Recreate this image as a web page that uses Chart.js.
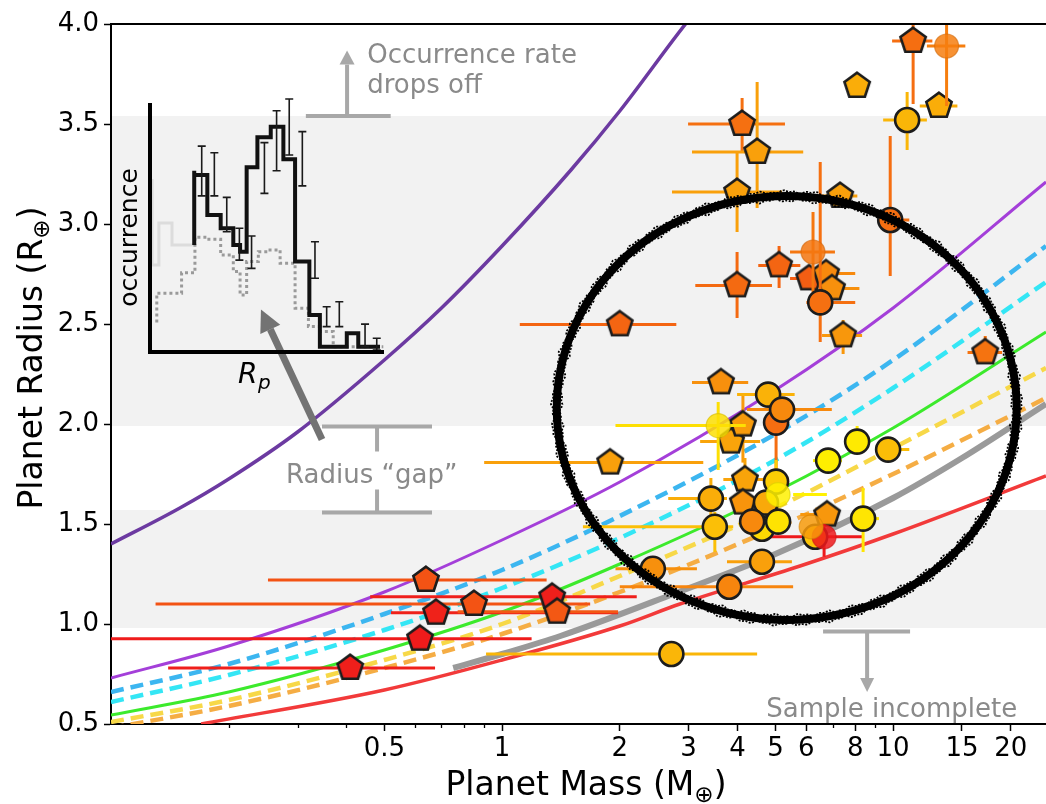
<!DOCTYPE html>
<html>
<head>
<meta charset="utf-8">
<script src="https://cdn.jsdelivr.net/npm/chart.js@4.4.1/dist/chart.umd.min.js"></script>
<style>
html,body{margin:0;padding:0;background:#ffffff;}
#wrap{position:relative;width:1046px;height:804px;overflow:hidden;background:#fff;}
#main{position:absolute;left:0;top:0;}
#inset{position:absolute;left:100px;top:85px;}
</style>
</head>
<body>
<div id="wrap">
<canvas id="main" width="1046" height="804"></canvas>
<canvas id="inset" width="300" height="310"></canvas>
</div>
<script>
// ---------------- axes ----------------
const xTickValues = [0.5, 1, 2, 3, 4, 5, 6, 8, 10, 15, 20];
const xTickLabels = ['0.5', '1', '2', '3', '4', '5', '6', '8', '10', '15', '20'];
const xMinorTickValues = [0.2, 0.3, 0.4, 0.6, 0.7, 0.8, 0.9, 7, 9];
const yTickValues = [0.5, 1.0, 1.5, 2.0, 2.5, 3.0, 3.5, 4.0];
const yTickLabels = ['0.5', '1.0', '1.5', '2.0', '2.5', '3.0', '3.5', '4.0'];
const massRange = [0.1, 24.6];
const radiusRange = [0.5, 4.0];
const shadedRadiusBands = [[0.98, 1.57], [1.99, 3.54]];

// ---------------- composition curves (mass, radius) ----------------
const curveMass = [0.1, 0.2, 0.5, 1, 2, 5, 10, 24.6];
const darkPurpleMass = [0.1, 0.15, 0.2, 0.3, 0.5, 0.7, 1, 1.5, 2, 3.0, 3.2];
const darkPurpleRadius = [1.40, 1.58, 1.725, 1.96, 2.32, 2.58, 2.89, 3.27, 3.565, 4.02, 4.085];
const purpleRadius = [0.73, 0.89, 1.16, 1.42, 1.71, 2.17, 2.58, 3.21];
const blueRadius = [0.66, 0.80, 1.05, 1.27, 1.54, 1.95, 2.32, 2.89];
const cyanRadius = [0.61, 0.745, 0.97, 1.18, 1.43, 1.82, 2.18, 2.71];
const greenRadius = [0.545, 0.66, 0.87, 1.06, 1.30, 1.66, 1.98, 2.46];
const yellowRadius = [0.51, 0.62, 0.82, 1.00, 1.24, 1.58, 1.88, 2.28];
const orangeRadius = [0.48, 0.59, 0.78, 0.95, 1.16, 1.48, 1.75, 2.13];
const grayMass = [0.75, 1, 1.41, 2.74, 5, 10, 15, 24.6];
const grayRadius = [0.78, 0.85, 0.94, 1.15, 1.35, 1.63, 1.83, 2.10];
const redMass = [0.17, 0.5, 1, 2, 2.85, 5.78, 10, 24.6];
const redRadius = [0.50, 0.67, 0.82, 0.99, 1.10, 1.29, 1.45, 1.74];

// ---------------- planets drawn as pentagons ----------------
const pentMass   = [0.409, 0.639, 0.617, 0.678, 0.848, 1.343, 1.383, 2.0, 1.89, 3.63, 3.85, 4.13, 4.18, 4.13, 6.78, 4.11, 4.49, 3.99, 7.32, 5.11, 3.99, 6.1, 6.74, 6.98, 7.45, 8.09, 11.25, 13.1, 17.2];
const pentRadius = [0.78, 1.22, 0.926, 1.056, 1.10, 1.136, 1.061, 2.498, 1.807, 2.208, 1.912, 1.997, 1.722, 1.607, 1.547, 3.50, 3.36, 3.16, 3.14, 2.793, 2.693, 2.728, 2.753, 2.678, 2.443, 3.69, 3.915, 3.59, 2.358];
const pentMassLo = [0.14, 0.252, 0.1, 0.52, 0.13, 0.46, 0.77, 1.11, 0.90, 3.06, 3.21, 4.13, 3.68, 4.13, 5.79, 2.99, 3.06, 2.72, 6.6, 4.52, 3.12, 5.45, 6.3, 6.5, 6.58, 8.09, 9.94, 11.7, 15.5];
const pentMassHi = [0.674, 1.30, 1.19, 1.98, 1.68, 2.21, 1.98, 2.79, 3.27, 4.26, 4.57, 4.13, 4.9, 4.13, 7.22, 5.29, 5.89, 5.2, 8.1, 5.79, 4.9, 6.6, 8.0, 8.2, 8.33, 8.09, 12.6, 14.6, 19.0];
const pentRadLo  = [0.78, 1.16, 0.926, 1.056, 1.10, 1.136, 1.061, 2.45, 1.807, 2.15, 1.912, 1.807, 1.62, 1.607, 1.547, 3.36, 3.08, 2.96, 3.14, 2.68, 2.53, 2.728, 2.753, 2.678, 2.35, 3.69, 3.6, 3.55, 2.33];
const pentRadHi  = [0.78, 1.28, 0.926, 1.056, 1.10, 1.136, 1.061, 2.55, 1.807, 2.26, 1.912, 2.147, 1.83, 1.607, 1.547, 3.63, 3.71, 3.36, 3.14, 2.89, 2.86, 2.728, 2.753, 2.678, 2.52, 3.69, 4.0, 3.63, 2.44];
const pentHeat   = [0.05, 0.28, 0.03, 0.06, 0.28, 0.05, 0.30, 0.36, 0.62, 0.55, 0.64, 0.60, 0.64, 0.57, 0.58, 0.41, 0.62, 0.62, 0.62, 0.36, 0.38, 0.33, 0.52, 0.55, 0.58, 0.68, 0.40, 0.68, 0.42];

// ---------------- planets drawn as circles ----------------
const circMass   = [2.71, 3.81, 2.43, 4.62, 3.5, 3.42, 4.79, 5.02, 5.2, 6.82, 8.09, 9.71, 5.02, 4.62, 4.73, 4.36, 5.08, 6.32, 6.66, 6.17, 8.38, 6.51, 6.24, 9.83, 10.86, 13.7, 3.57, 5.08];
const circRadius = [0.85, 1.186, 1.276, 1.311, 1.486, 1.627, 2.147, 2.007, 2.072, 1.817, 1.912, 1.872, 1.712, 1.476, 1.607, 1.512, 1.512, 1.436, 1.436, 1.486, 1.527, 2.608, 2.86, 3.02, 3.52, 3.89, 1.992, 1.647];
const circMassLo = [0.91, 2.0, 1.95, 3.76, 1.61, 2.66, 3.99, 5.02, 4.23, 6.24, 7.6, 9.0, 5.02, 4.62, 4.73, 4.36, 5.08, 6.32, 4.57, 6.17, 7.9, 6.0, 5.45, 9.2, 9.43, 12.2, 1.95, 5.55];
const circMassHi = [4.49, 5.55, 3.15, 5.51, 3.9, 3.76, 5.6, 5.02, 6.97, 7.4, 8.6, 11.0, 5.02, 4.62, 4.73, 4.36, 5.08, 6.32, 8.4, 6.17, 9.2, 8.0, 7.1, 11.0, 12.2, 15.3, 4.2, 6.77];
const circRadLo  = [0.85, 1.186, 1.276, 1.311, 1.36, 1.52, 2.147, 1.77, 2.072, 1.817, 1.85, 1.872, 1.6, 1.476, 1.607, 1.512, 1.512, 1.436, 1.336, 1.486, 1.36, 2.41, 2.66, 2.74, 3.37, 3.59, 1.77, 1.647];
const circRadHi  = [0.85, 1.186, 1.276, 1.311, 1.56, 1.73, 2.147, 2.10, 2.072, 1.817, 1.99, 1.872, 1.82, 1.476, 1.607, 1.512, 1.512, 1.436, 1.5, 1.486, 1.68, 3.31, 3.06, 3.44, 3.66, 4.0, 2.11, 1.647];
const circHeat   = [0.72, 0.50, 0.55, 0.62, 0.76, 0.68, 0.70, 0.40, 0.52, 0.97, 0.95, 0.75, 0.82, 0.88, 0.66, 0.52, 0.92, 0.78, 0.02, 0.60, 0.93, 0.41, 0.44, 0.40, 0.72, 0.47, 0.90, 0.98];
const circFadedIndex = [18, 19, 22, 25, 26, 27];

// ---------------- annotation anchors (mass, radius) ----------------
const ringMassSpan = [1.38, 20.7];
const ringRadiusSpan = [1.02, 3.14];

// ---------------- inset histogram (relative units) ----------------
const insetSolidX = [0.189, 0.189, 0.245, 0.302, 0.356, 0.385, 0.413, 0.459, 0.516, 0.570, 0.620, 0.681, 0.726, 0.841, 0.890, 0.947, 0.983];
const insetSolidY = [0.430, 0.728, 0.711, 0.550, 0.497, 0.430, 0.403, 0.742, 0.862, 0.905, 0.774, 0.363, 0.149, 0.021, 0.075, 0.021, 0.021];
const insetDotX = [0.029, 0.029, 0.135, 0.192, 0.242, 0.302, 0.356, 0.385, 0.413, 0.463, 0.513, 0.556, 0.620, 0.677, 0.726, 0.783, 0.841, 0.997];
const insetDotY = [0.118, 0.193, 0.236, 0.318, 0.461, 0.453, 0.390, 0.323, 0.229, 0.363, 0.403, 0.410, 0.356, 0.176, 0.102, 0.082, 0.021, 0.021];
const insetPaleX = [0.009, 0.038, 0.094, 0.137, 0.189];
const insetPaleY = [0.695, 0.349, 0.518, 0.430, 0.430];
const insetErrX  = [0.221, 0.275, 0.328, 0.382, 0.434, 0.489, 0.541, 0.595, 0.651, 0.705, 0.755, 0.809, 0.919, 0.969];
const insetErrLo = [0.627, 0.627, 0.483, 0.369, 0.336, 0.637, 0.728, 0.791, 0.667, 0.296, 0.102, 0.102, 0.021, 0.008];
const insetErrHi = [0.827, 0.800, 0.621, 0.497, 0.466, 0.841, 0.969, 1.016, 0.885, 0.443, 0.182, 0.202, 0.112, 0.055];

// =====================================================================
const FONT = 'DejaVu Sans';
function heatRGB(c) { return [Math.round(238 + 17 * c), Math.round(20 + 225 * c), Math.round(28 - 28 * c)]; }
function rgba(a, al) { return 'rgba(' + a[0] + ',' + a[1] + ',' + a[2] + ',' + al + ')'; }
function pts(xs, ys) { return xs.map((x, i) => ({ x: x, y: ys[i] })); }

function pentagonImage(fill) {
  const s = 34, c = document.createElement('canvas');
  c.width = s; c.height = s;
  const g = c.getContext('2d'), R = 13.3;
  g.beginPath();
  for (let k = 0; k < 5; k++) {
    const a = -Math.PI / 2 + k * 2 * Math.PI / 5;
    const px = s / 2 + R * Math.cos(a), py = s / 2 + R * Math.sin(a);
    if (k) g.lineTo(px, py); else g.moveTo(px, py);
  }
  g.closePath();
  g.fillStyle = fill; g.fill();
  g.lineWidth = 2.6; g.strokeStyle = '#1c1c1c'; g.lineJoin = 'miter'; g.stroke();
  return c;
}

function curve(xs, ys, color, width, dash) {
  return { type: 'line', data: pts(xs, ys), borderColor: color, borderWidth: width, borderDash: dash || [],
    pointRadius: 0, fill: false, cubicInterpolationMode: 'monotone', order: 10, clip: 0 };
}

const errorBarPlugin = {
  id: 'errbars',
  beforeDatasetDraw(chart, args) {
    const ds = chart.data.datasets[args.index];
    if (!ds.errLo) return;
    const ctx = chart.ctx, xs = chart.scales.x, ys = chart.scales.y, a = chart.chartArea;
    ctx.save();
    ctx.beginPath(); ctx.rect(a.left, a.top, a.right - a.left, a.bottom - a.top); ctx.clip();
    ctx.lineWidth = 3; ctx.lineCap = 'butt';
    ds.data.forEach((p, i) => {
      ctx.strokeStyle = ds.errColor[i];
      const px = xs.getPixelForValue(p.x), py = ys.getPixelForValue(p.y);
      const mLo = ds.errLo.m[i], mHi = ds.errHi.m[i], rLo = ds.errLo.r[i], rHi = ds.errHi.r[i];
      if (mHi > mLo) { ctx.beginPath(); ctx.moveTo(xs.getPixelForValue(mLo), py); ctx.lineTo(xs.getPixelForValue(mHi), py); ctx.stroke(); }
      if (rHi > rLo) { ctx.beginPath(); ctx.moveTo(px, ys.getPixelForValue(rLo)); ctx.lineTo(px, ys.getPixelForValue(rHi)); ctx.stroke(); }
    });
    ctx.restore();
  }
};

const bandPlugin = {
  id: 'bands',
  beforeDraw(chart) {
    const ctx = chart.ctx, a = chart.chartArea, ys = chart.scales.y;
    ctx.save();
    ctx.fillStyle = '#ffffff'; ctx.fillRect(0, 0, chart.width, chart.height);
    ctx.fillStyle = '#f2f2f2';
    shadedRadiusBands.forEach(b => {
      const y1 = ys.getPixelForValue(b[1]), y0 = ys.getPixelForValue(b[0]);
      ctx.fillRect(a.left, y1, a.right - a.left, y0 - y1);
    });
    ctx.restore();
  }
};

function drawParts(ctx, parts, x, y, size, align) {
  let total = 0;
  const widths = parts.map(p => { ctx.font = (p[1] ? size * 0.7 : size) + 'px "' + FONT + '"'; const w = ctx.measureText(p[0]).width; total += w; return w; });
  let cx = align === 'center' ? x - total / 2 : x;
  parts.forEach((p, i) => {
    ctx.font = (p[1] ? size * 0.7 : size) + 'px "' + FONT + '"';
    ctx.fillText(p[0], cx, p[1] ? y + size * 0.22 : y);
    cx += widths[i];
  });
}

function arrowHead(ctx, tipX, tipY, dirX, dirY, len, half) {
  const n = Math.hypot(dirX, dirY), ux = dirX / n, uy = dirY / n;
  const bx = tipX - ux * len, by = tipY - uy * len;
  ctx.beginPath();
  ctx.moveTo(tipX, tipY);
  ctx.lineTo(bx - uy * half, by + ux * half);
  ctx.lineTo(bx + uy * half, by - ux * half);
  ctx.closePath(); ctx.fill();
  return [bx, by];
}

const decoPlugin = {
  id: 'deco',
  afterDatasetsDraw(chart) {
    const ctx = chart.ctx, a = chart.chartArea;
    const X = v => chart.scales.x.getPixelForValue(v), Y = v => chart.scales.y.getPixelForValue(v);
    ctx.save();
    // hand-drawn ring
    const x0 = X(ringMassSpan[0]), x1 = X(ringMassSpan[1]), y0 = Y(ringRadiusSpan[1]), y1 = Y(ringRadiusSpan[0]);
    const cx = (x0 + x1) / 2, cy = (y0 + y1) / 2, rx = (x1 - x0) / 2, ry = (y1 - y0) / 2;
    ctx.strokeStyle = '#000'; ctx.lineWidth = 8;
    ctx.beginPath(); ctx.ellipse(cx, cy, rx, ry, 0, 0, Math.PI * 2); ctx.stroke();
    ctx.lineWidth = 1.8;
    for (let k = 0; k < 3; k++) {
      ctx.beginPath();
      for (let t = 0; t <= 720; t++) {
        const th = t / 720 * Math.PI * 2;
        const d = (k - 1) * 4.2 + 1.0 * Math.sin(53 * th + k * 1.7) + 0.8 * Math.sin(131 * th + k);
        const px = cx + (rx + d) * Math.cos(th), py = cy + (ry + d) * Math.sin(th);
        if (t) ctx.lineTo(px, py); else ctx.moveTo(px, py);
      }
      ctx.setLineDash([2, 1.5]);
      ctx.stroke();
    }
    ctx.setLineDash([]);

    // gray annotations
    const gl = '#a8a8a8', gt = '#8a8a8a';
    ctx.strokeStyle = gl; ctx.fillStyle = gl; ctx.lineWidth = 4; ctx.lineCap = 'butt';
    // occurrence rate drops off
    let by = Y(3.54);
    ctx.beginPath(); ctx.moveTo(X(0.315), by); ctx.lineTo(X(0.519), by); ctx.stroke();
    let ax = X(0.4015);
    let base = arrowHead(ctx, ax, Y(3.867), 0, -1, 14, 7.5);
    ctx.beginPath(); ctx.moveTo(ax, by); ctx.lineTo(ax, base[1]); ctx.stroke();
    // radius gap bracket
    const gx0 = X(0.3464), gx1 = X(0.662), gxm = X(0.479);
    ctx.beginPath();
    ctx.moveTo(gx0, Y(1.987)); ctx.lineTo(gx1, Y(1.987));
    ctx.moveTo(gx0, Y(1.557)); ctx.lineTo(gx1, Y(1.557));
    ctx.moveTo(gxm, Y(1.987)); ctx.lineTo(gxm, Y(1.862));
    ctx.moveTo(gxm, Y(1.672)); ctx.lineTo(gxm, Y(1.557));
    ctx.stroke();
    // sample incomplete
    const sy = Y(0.962), sx = X(8.58);
    ctx.beginPath(); ctx.moveTo(X(6.62), sy); ctx.lineTo(X(11.05), sy); ctx.stroke();
    base = arrowHead(ctx, sx, Y(0.66), 0, 1, 14, 7);
    ctx.beginPath(); ctx.moveTo(sx, sy); ctx.lineTo(sx, base[1]); ctx.stroke();

    ctx.fillStyle = gt; ctx.font = '26px "' + FONT + '"'; ctx.textBaseline = 'alphabetic';
    ctx.textAlign = 'left';
    ctx.fillText('Occurrence rate', X(0.452), Y(3.805));
    ctx.fillText('drops off', X(0.452), Y(3.655));
    ctx.fillText('Radius \u201Cgap\u201D', X(0.2803), Y(1.707));
    ctx.textAlign = 'right';
    ctx.fillText('Sample incomplete', X(20.76), Y(0.535));

    // dark arrow pointing to the inset gap
    ctx.strokeStyle = '#737373'; ctx.fillStyle = '#737373'; ctx.lineWidth = 7;
    const tx = X(0.2418), ty = Y(2.573), fx = X(0.3464), fy = Y(1.922);
    base = arrowHead(ctx, tx, ty, tx - fx, ty - fy, 22, 11);
    ctx.beginPath(); ctx.moveTo(fx, fy); ctx.lineTo(base[0], base[1]); ctx.stroke();
    ctx.restore();
  },
  afterDraw(chart) {
    const ctx = chart.ctx, a = chart.chartArea, xs = chart.scales.x;
    ctx.save();
    // top spine
    ctx.strokeStyle = '#000'; ctx.lineWidth = 2;
    ctx.beginPath(); ctx.moveTo(a.left, a.top); ctx.lineTo(a.right, a.top); ctx.stroke();
    // minor ticks
    ctx.lineWidth = 1.3;
    xMinorTickValues.forEach(v => {
      const x = Math.round(xs.getPixelForValue(v)) + 0.5;
      ctx.beginPath(); ctx.moveTo(x, a.bottom); ctx.lineTo(x, a.bottom + 4); ctx.stroke();
    });
    // axis titles
    ctx.fillStyle = '#000'; ctx.textAlign = 'left'; ctx.textBaseline = 'alphabetic';
    drawParts(ctx, [['Planet Mass (M', false], ['\u2295', true], [')', false]], 586, 795, 33, 'center');
    ctx.translate(42, 358); ctx.rotate(-Math.PI / 2);
    drawParts(ctx, [['Planet Radius (R', false], ['\u2295', true], [')', false]], 0, 0, 33, 'center');
    ctx.restore();
  }
};

const pentColors = pentHeat.map(c => rgba(heatRGB(c), 1));
const circFill = circHeat.map((c, i) => rgba(heatRGB(c), circFadedIndex.includes(i) ? 0.85 : 1));
const circEdge = circHeat.map((c, i) => circFadedIndex.includes(i) ? rgba(heatRGB(c).map(v => Math.round(v * 0.85)), 0.6) : '#1c1c1c');
const circEdgeW = circHeat.map((c, i) => circFadedIndex.includes(i) ? 1.2 : 2.6);

new Chart(document.getElementById('main'), {
  type: 'scatter',
  data: {
    datasets: [
      curve(darkPurpleMass, darkPurpleRadius, '#6c3aa1', 3.5),
      curve(curveMass, purpleRadius, '#a43fd9', 3),
      curve(curveMass, blueRadius, '#3cb6f0', 4.5, [13, 7]),
      curve(curveMass, cyanRadius, '#34e6f5', 4.5, [13, 7]),
      curve(curveMass, greenRadius, '#3cea2c', 3),
      curve(curveMass, yellowRadius, '#f7d848', 4.5, [13, 7]),
      curve(curveMass, orangeRadius, '#f5ad44', 4.5, [13, 7]),
      curve(grayMass, grayRadius, '#9a9a9a', 6),
      curve(redMass, redRadius, '#f23a3a', 3.5),
      {
        data: pts(pentMass, pentRadius), order: 2,
        pointStyle: pentColors.map(pentagonImage), pointRadius: 14,
        errLo: { m: pentMassLo, r: pentRadLo }, errHi: { m: pentMassHi, r: pentRadHi }, errColor: pentColors
      },
      {
        data: pts(circMass, circRadius), order: 1,
        pointStyle: 'circle', pointRadius: 12, backgroundColor: circFill, borderColor: circEdge, borderWidth: circEdgeW,
        errLo: { m: circMassLo, r: circRadLo }, errHi: { m: circMassHi, r: circRadHi }, errColor: circHeat.map(c => rgba(heatRGB(c), 1))
      }
    ]
  },
  options: {
    responsive: false, devicePixelRatio: 1, animation: false, events: [],
    layout: { autoPadding: false, padding: { top: 24, right: 0, left: 0, bottom: 0 } },
    plugins: { legend: { display: false }, tooltip: { enabled: false } },
    scales: {
      x: {
        type: 'logarithmic', min: massRange[0], max: massRange[1],
        afterBuildTicks: s => { s.ticks = xTickValues.map(v => ({ value: v })); },
        afterFit: s => { s.height = 80; s.paddingLeft = 0; s.paddingRight = 0; },
        ticks: { callback: (v, i) => xTickLabels[i], autoSkip: false, maxRotation: 0, color: '#000', padding: 3, font: { family: FONT, size: 26 } },
        grid: { drawOnChartArea: false, drawTicks: true, tickLength: 7, tickWidth: 1.5, tickColor: '#000' },
        border: { display: true, color: '#000', width: 2 }
      },
      y: {
        type: 'linear', min: radiusRange[0], max: radiusRange[1],
        afterBuildTicks: s => { s.ticks = yTickValues.map(v => ({ value: v })); },
        afterFit: s => { s.width = 111; },
        ticks: { callback: (v, i) => yTickLabels[i], color: '#000', padding: 5, font: { family: FONT, size: 26 } },
        grid: { drawOnChartArea: false, drawTicks: true, tickLength: 7, tickWidth: 1.5, tickColor: '#000' },
        border: { display: true, color: '#000', width: 2 }
      }
    }
  },
  plugins: [bandPlugin, errorBarPlugin, decoPlugin]
});

// ---------------- inset ----------------
const insetPlugin = {
  id: 'insetDeco',
  afterDatasetsDraw(chart) {
    const ctx = chart.ctx, a = chart.chartArea;
    const X = v => chart.scales.x.getPixelForValue(v), Y = v => chart.scales.y.getPixelForValue(v);
    ctx.save();
    ctx.strokeStyle = '#1a1a1a'; ctx.lineWidth = 1.6;
    insetErrX.forEach((c, i) => {
      const x = X(c), y1 = Y(insetErrLo[i]), y2 = Y(insetErrHi[i]);
      ctx.beginPath();
      ctx.moveTo(x, y1); ctx.lineTo(x, y2);
      ctx.moveTo(x - 4, y1); ctx.lineTo(x + 4, y1);
      ctx.moveTo(x - 4, y2); ctx.lineTo(x + 4, y2);
      ctx.stroke();
    });
    ctx.strokeStyle = '#000'; ctx.lineWidth = 4;
    ctx.beginPath(); ctx.moveTo(a.left, a.top); ctx.lineTo(a.left, a.bottom); ctx.lineTo(a.right, a.bottom); ctx.stroke();
    ctx.fillStyle = '#000';
    ctx.save();
    ctx.translate(a.left - 13, (a.top + a.bottom) / 2 + 10); ctx.rotate(-Math.PI / 2);
    ctx.font = '25px "' + FONT + '"'; ctx.textAlign = 'center'; ctx.textBaseline = 'alphabetic';
    ctx.fillText('occurrence', 0, 0);
    ctx.restore();
    ctx.textAlign = 'left'; ctx.textBaseline = 'alphabetic';
    ctx.font = 'italic 28px "' + FONT + '"';
    ctx.fillText('R', 138, 298);
    ctx.font = 'italic 20px "' + FONT + '"';
    ctx.fillText('p', 158, 304);
    ctx.restore();
  }
};

new Chart(document.getElementById('inset'), {
  type: 'scatter',
  data: {
    datasets: [
      { type: 'line', data: pts(insetPaleX, insetPaleY), stepped: 'after', borderColor: '#dcdcdc', borderWidth: 3, pointRadius: 0, order: 3 },
      { type: 'line', data: pts(insetDotX, insetDotY), stepped: 'after', borderColor: '#9a9a9a', borderWidth: 3, borderDash: [3, 3], pointRadius: 0, order: 2 },
      { type: 'line', data: pts(insetSolidX, insetSolidY), stepped: 'after', borderColor: '#111', borderWidth: 4, pointRadius: 0, order: 1 }
    ]
  },
  options: {
    responsive: false, devicePixelRatio: 1, animation: false, events: [],
    layout: { autoPadding: false, padding: { left: 50, top: 18, right: 16, bottom: 43 } },
    plugins: { legend: { display: false }, tooltip: { enabled: false } },
    scales: { x: { type: 'linear', min: 0, max: 1, display: false }, y: { type: 'linear', min: 0, max: 1, display: false } }
  },
  plugins: [insetPlugin]
});
</script>
</body>
</html>
